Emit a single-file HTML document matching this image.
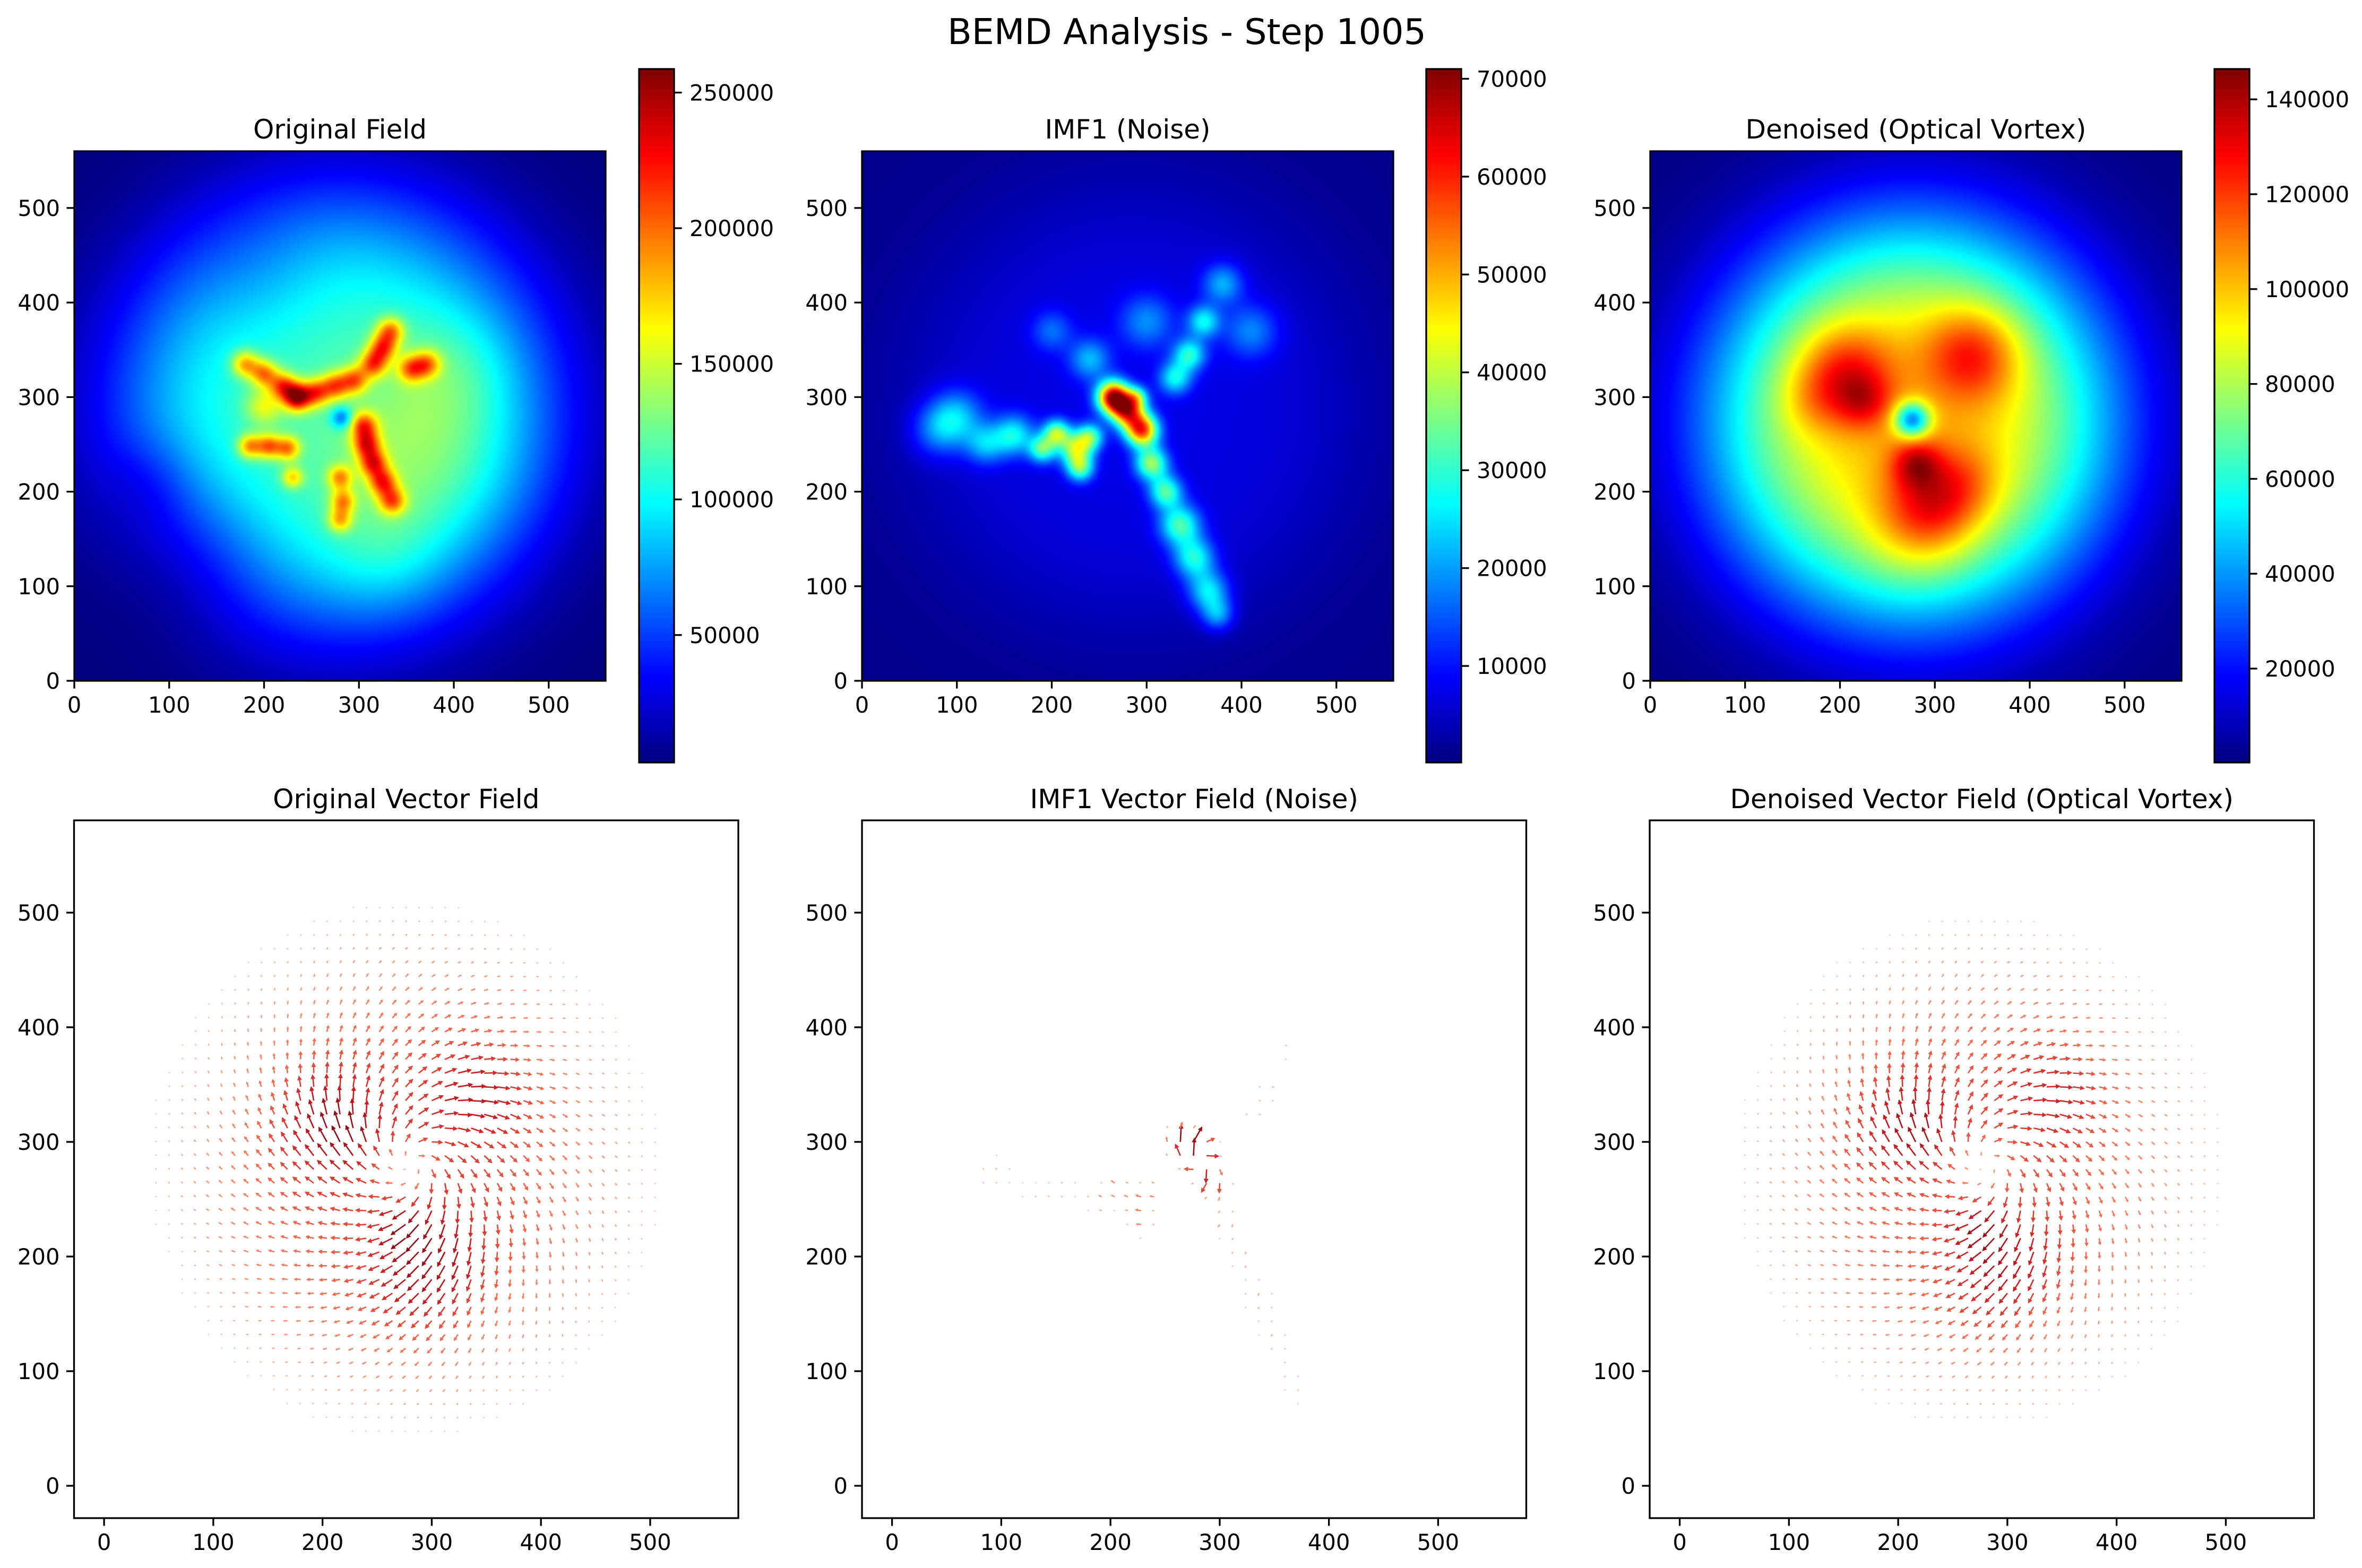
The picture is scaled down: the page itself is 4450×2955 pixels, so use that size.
<!DOCTYPE html>
<html><head><meta charset="utf-8">
<style>
html,body{margin:0;padding:0;background:#fff;}
#fig{position:relative;width:4450px;height:2955px;overflow:hidden;background:#fff;font-family:"DejaVu Sans","Liberation Sans",sans-serif;}
canvas.hm{position:absolute;}
.cbar{position:absolute;}
svg{position:absolute;left:0;top:0;}
</style></head>
<body>
<div id="fig">
<svg id="ov" width="4450" height="2955" viewBox="0 0 4450 2955"></svg>
</div>
<script>
// ---------- data ----------
const suptitleText = "BEMD Analysis - Step 1005";
const heatTitles = ["Original Field", "IMF1 (Noise)", "Denoised (Optical Vortex)"];
const quiverTitles = ["Original Vector Field", "IMF1 Vector Field (Noise)", "Denoised Vector Field (Optical Vortex)"];
const axisTicks = [0, 100, 200, 300, 400, 500];
const cbarMin = [3, 0.135, 0.2];            // thousands
const cbarMax = [258.7, 71.0, 146.4];       // thousands
const cbarTicksOrig = [50000, 100000, 150000, 200000, 250000];
const cbarTicksImf = [10000, 20000, 30000, 40000, 50000, 60000, 70000];
const cbarTicksDen = [20000, 40000, 60000, 80000, 100000, 120000, 140000];
// envelope: cx, cy, R, power, amplitude(k), floor(k)
const envOrig = [275, 285, 235, 3.5, 112, 3];
const envImf = [285, 290, 250, 4, 6, 1];
const envDen = [275, 275, 215, 3, 98, 1];
// blobs: cx, cy, sigma, amplitude(k)
const blobsOrig = [
 [370,240,70,25],[330,130,45,15],[400,330,45,15],[130,140,60,-22],[80,210,35,-15],[200,420,50,-12],
 [180,335,10,75],[200,325,10,80],[220,312,10,85],[235,300,10,135],[255,305,10,85],[275,312,10,80],
 [295,318,10,80],[315,335,10,85],[325,352,10,85],[333,370,10,80],[355,330,10,75],[372,335,10,70],
 [305,270,10,85],[308,250,10,90],[315,230,10,90],[325,210,10,85],[335,190,10,80],
 [280,215,9,70],[283,190,9,70],[280,170,9,65],
 [185,248,9,80],[205,248,9,85],[225,246,9,80],[230,215,8,60],[200,290,14,45],
 [282,278,8,-60]
];
const blobsImf = [
 [265,300,12,60],[280,285,12,45],[295,265,12,50],[290,300,8,20],
 [205,262,10,30],[225,245,12,30],[190,245,10,25],[240,258,10,25],[230,225,10,25],
 [160,260,15,20],[130,250,15,15],[100,280,20,15],[80,265,20,12],
 [305,230,12,30],[320,200,12,25],[335,165,15,25],[350,130,15,22],[365,95,15,20],[375,70,12,15],
 [330,320,12,20],[345,345,12,22],[360,380,12,20],[380,420,15,15],[410,370,20,12],
 [240,340,15,15],[200,370,15,10],[300,380,20,12]
];
const blobsDen = [
 [205,325,35,35],[225,295,20,20],[340,345,35,35],[295,185,35,30],[280,230,18,30],
 [330,210,30,15],[170,295,25,10],[280,150,40,10],[276,276,13,-65]
];
const vortexCenter = [282, 282];
const spiralMix = [0.9, 0.9, 0.9];
const gridStep = 12;

// ---------- helpers ----------
const NS = "http://www.w3.org/2000/svg";
const ov = document.getElementById("ov");
const fig = document.getElementById("fig");
function clamp(v){return v<0?0:v>1?1:v;}
function jet(t){t=clamp(t);return [clamp(1.5-Math.abs(4*t-3)),clamp(1.5-Math.abs(4*t-2)),clamp(1.5-Math.abs(4*t-1))];}
const redsStops=[[0,255,245,240],[0.25,252,187,161],[0.5,251,106,74],[0.75,203,24,29],[1,103,0,13]];
function reds(t){t=clamp(t);for(let i=1;i<redsStops.length;i++){const a=redsStops[i-1],b=redsStops[i];if(t<=b[0]){const f=(t-a[0])/(b[0]-a[0]);return `rgb(${Math.round(a[1]+f*(b[1]-a[1]))},${Math.round(a[2]+f*(b[2]-a[2]))},${Math.round(a[3]+f*(b[3]-a[3]))})`;}}return "rgb(103,0,13)";}
function field(env, blobs, x, y){
  const dx=x-env[0], dy=y-env[1], r=Math.sqrt(dx*dx+dy*dy);
  let v=env[5]+env[4]*Math.exp(-Math.pow(r/env[2],env[3]));
  for(const b of blobs){const ex=x-b[0],ey=y-b[1];v+=b[3]*Math.exp(-(ex*ex+ey*ey)/(2*b[2]*b[2]));}
  return v;
}
function mk(tag, attrs, parent){const e=document.createElementNS(NS,tag);for(const k in attrs)e.setAttribute(k,attrs[k]);(parent||ov).appendChild(e);return e;}
function txt(s,x,y,size,anchor){const t=mk("text",{x:x,y:y,"font-size":size,"text-anchor":anchor||"middle","font-family":"DejaVu Sans, Liberation Sans, sans-serif",fill:"#000"});t.textContent=s;return t;}

// suptitle
const st = txt(suptitleText, 2236, 83, 66.7);



// ---------- heatmaps ----------
const hmX=[140,1624,3109], hmTop=285, hmW=1001, hmH=998;
const cbX=[1204,2687,4172], cbTop=130, cbW=66, cbH=1307;
const envs=[envOrig,envImf,envDen], blobSets=[blobsOrig,blobsImf,blobsDen];
const cbTickSets=[cbarTicksOrig,cbarTicksImf,cbarTicksDen];
const panelKeys=["original","imf1","denoised"];
const N=280;
for(let p=0;p<3;p++){
  const cv=document.createElement("canvas");
  cv.width=N;cv.height=N;cv.className="hm";
  cv.style.left=hmX[p]+"px";cv.style.top=hmTop+"px";cv.style.width=hmW+"px";cv.style.height=hmH+"px";
  
  
  const ctx=cv.getContext("2d");const img=ctx.createImageData(N,N);
  for(let j=0;j<N;j++)for(let i=0;i<N;i++){
    const x=(i+0.5)*560/N, y=560-(j+0.5)*560/N;
    const v=field(envs[p],blobSets[p],x,y);
    const c=jet((v-cbarMin[p])/(cbarMax[p]-cbarMin[p]));
    const k=(j*N+i)*4;img.data[k]=c[0]*255;img.data[k+1]=c[1]*255;img.data[k+2]=c[2]*255;img.data[k+3]=255;
  }
  ctx.putImageData(img,0,0);
  fig.insertBefore(cv,ov);
  const cb=document.createElement("div");cb.className="cbar";
  let stops=[];for(let s=0;s<=16;s++){const c=jet(s/16);stops.push(`rgb(${Math.round(c[0]*255)},${Math.round(c[1]*255)},${Math.round(c[2]*255)}) ${(s/16*100).toFixed(2)}%`);}
  cb.style.cssText=`left:${cbX[p]}px;top:${cbTop}px;width:${cbW}px;height:${cbH}px;background:linear-gradient(to top,${stops.join(",")});`;
  
  
  fig.insertBefore(cb,ov);
  const g=mk("g",{});
  
  
  const fr=mk("rect",{x:hmX[p],y:hmTop,width:hmW,height:hmH,fill:"none",stroke:"#000","stroke-width":3.3},g);
  
  
  const tt=txt(heatTitles[p],hmX[p]+hmW/2,261,50);g.appendChild(tt);
  
  
  for(const v of axisTicks){
    const px=hmX[p]+v/560*hmW, py=hmTop+hmH-v/560*hmH;
    mk("line",{x1:px,y1:hmTop+hmH,x2:px,y2:hmTop+hmH+14.6,stroke:"#000","stroke-width":3.3},g);
    const xl=txt(String(v),px,hmTop+hmH+60,41.7);g.appendChild(xl);
    
    
    mk("line",{x1:hmX[p]-14.6,y1:py,x2:hmX[p],y2:py,stroke:"#000","stroke-width":3.3},g);
    const yl=txt(String(v),hmX[p]-27,py+15,41.7,"end");g.appendChild(yl);
    
    
  }
  const cf=mk("rect",{x:cbX[p],y:cbTop,width:cbW,height:cbH,fill:"none",stroke:"#000","stroke-width":3.3},g);
  
  
  for(const v of cbTickSets[p]){
    const py=cbTop+cbH-(v/1000-cbarMin[p])/(cbarMax[p]-cbarMin[p])*cbH;
    mk("line",{x1:cbX[p]+cbW,y1:py,x2:cbX[p]+cbW+14.6,y2:py,stroke:"#000","stroke-width":3.3},g);
    const cl=txt(String(v),cbX[p]+cbW+29,py+15,41.7,"start");g.appendChild(cl);
    
    
  }
}

// ---------- quiver panels ----------
const qX=[139.5,1624,3108], qTop=1546, qW=1251.5, qH=1315;
const xMin=-27.5, xMax=580.7, yMin=-28.2, yMax=580.5;
for(let p=0;p<3;p++){
  const g=mk("g",{});
  
  
  const sx=v=>qX[p]+(v-xMin)/(xMax-xMin)*qW;
  const sy=v=>qTop+qH-(v-yMin)/(yMax-yMin)*qH;
  const ag=mk("g",{},g);
  
  
  const env = p===1?envImf:envDen, bl = p===1?blobsImf:blobsDen, mx = p===1?cbarMax[1]:cbarMax[2];
  for(let x=0;x<=552;x+=gridStep)for(let y=0;y<=552;y+=gridStep){
    let m=field(env,bl,x,y)/mx;
    if(p===1){m=Math.pow(clamp(m),2.2)*0.9;}
    else{m=Math.pow(clamp(m),1.7)*0.9;if(p===0)m=Math.min(1,m+0.1*field(envOrig,blobsOrig,x,y)/cbarMax[0]);}
    if(m<0.07)continue;
    const dx=x-vortexCenter[0], dy=y-vortexCenter[1], r=Math.sqrt(dx*dx+dy*dy)||1;
    let ux=dy/r+spiralMix[p]*dx/r, uy=-dx/r+spiralMix[p]*dy/r;
    const n=Math.sqrt(ux*ux+uy*uy);ux/=n;uy/=n;
    const L=m*38, x0=sx(x), y0=sy(y);
    const ex=ux, ey=-uy;
    const nx=-ey, ny=ex;
    const hl=Math.min(9,L*0.45), hw=Math.min(4.5,L*0.25), sw=1.3;
    const bx=x0+ex*(L-hl), by=y0+ey*(L-hl), tx=x0+ex*L, ty=y0+ey*L;
    const pts=[[x0+nx*sw,y0+ny*sw],[bx+nx*sw,by+ny*sw],[bx+nx*hw,by+ny*hw],[tx,ty],[bx-nx*hw,by-ny*hw],[bx-nx*sw,by-ny*sw],[x0-nx*sw,y0-ny*sw]];
    const a=mk("polygon",{points:pts.map(q=>q[0].toFixed(1)+","+q[1].toFixed(1)).join(" "),fill:reds(0.2+m*0.75)},ag);
    
    
  }
  const fr=mk("rect",{x:qX[p],y:qTop,width:qW,height:qH,fill:"none",stroke:"#000","stroke-width":3.3},g);
  
  
  const tt=txt(quiverTitles[p],qX[p]+qW/2,1523,50);g.appendChild(tt);
  
  
  for(const v of axisTicks){
    const px=sx(v), py=sy(v);
    mk("line",{x1:px,y1:qTop+qH,x2:px,y2:qTop+qH+14.6,stroke:"#000","stroke-width":3.3},g);
    const xl=txt(String(v),px,qTop+qH+60,41.7);g.appendChild(xl);
    
    
    mk("line",{x1:qX[p]-14.6,y1:py,x2:qX[p],y2:py,stroke:"#000","stroke-width":3.3},g);
    const yl=txt(String(v),qX[p]-27,py+15,41.7,"end");g.appendChild(yl);
    
    
  }
}
</script>
</body></html>
